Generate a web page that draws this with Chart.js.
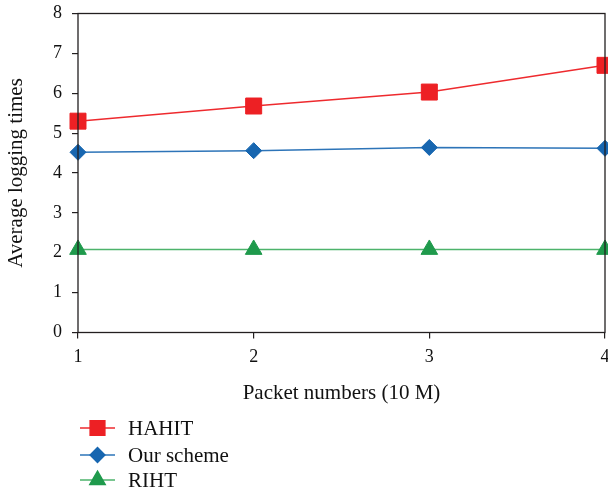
<!DOCTYPE html>
<html>
<head>
<meta charset="utf-8">
<script src="https://cdn.jsdelivr.net/npm/chart.js@4/dist/chart.umd.min.js"></script>
<style>
  html, body { margin: 0; padding: 0; background: #fff; }
  #wrap { width: 608px; height: 494px; }
</style>
</head>
<body>
<div id="wrap"><canvas id="chart"></canvas></div>
<script>
// data
const packets = [1, 2, 3, 4];
const hahit = [5.30, 5.68, 6.03, 6.70];
const ourScheme = [4.52, 4.56, 4.64, 4.62];
const riht = [2.08, 2.08, 2.08, 2.08];
const seriesNames = ['HAHIT', 'Our scheme', 'RIHT'];
const yTicks = [0, 1, 2, 3, 4, 5, 6, 7, 8];

const FONT = "'Liberation Serif', 'DejaVu Serif', serif";
const AXIS = '#231f20';

function pts(vals) {
  return packets.map((p, i) => ({ x: p, y: vals[i] }));
}

// box around the plot area
const frame = {
  id: 'frame',
  afterDatasetsDraw(chart) {
    const { ctx, chartArea: a } = chart;
    ctx.save();
    ctx.strokeStyle = AXIS;
    ctx.lineWidth = 1.3;
    ctx.strokeRect(a.left, a.top, a.right - a.left, a.bottom - a.top);
    ctx.restore();
  }
};

// vertical legend under the axis title
const legendBox = {
  id: 'legendBox',
  afterDraw(chart) {
    const ctx = chart.ctx;
    const rows = [428, 455, 480];
    ctx.save();
    chart.data.datasets.forEach((ds, i) => {
      const y = rows[i];
      ctx.strokeStyle = ds.borderColor;
      ctx.lineWidth = 1.5;
      ctx.beginPath();
      ctx.moveTo(80, y);
      ctx.lineTo(115, y);
      ctx.stroke();
      ctx.fillStyle = ds.pointBackgroundColor;
      ctx.strokeStyle = ds.pointBackgroundColor;
      Chart.helpers.drawPoint(ctx, {
        pointStyle: ds.pointStyle, radius: ds.pointRadius * 0.92, rotation: 0, borderWidth: 1
      }, 97.5, y);
      ctx.fillStyle = '#111';
      ctx.font = '21px ' + FONT;
      ctx.textBaseline = 'middle';
      ctx.textAlign = 'left';
      ctx.fillText(ds.label, 128, y + 1);
    });
    ctx.restore();
  }
};

new Chart(document.getElementById('chart'), {
  type: 'line',
  data: {
    datasets: [
      {
        label: seriesNames[0], data: pts(hahit),
        borderColor: '#ee2a2e', borderWidth: 1.5,
        pointStyle: 'rect', pointRadius: 11.3,
        pointBackgroundColor: '#ed2024', pointBorderColor: '#ed2024', pointBorderWidth: 1,
        clip: false
      },
      {
        label: seriesNames[1], data: pts(ourScheme),
        borderColor: '#2d74b8', borderWidth: 1.5,
        pointStyle: 'rectRot', pointRadius: 8,
        pointBackgroundColor: '#1766b0', pointBorderColor: '#1766b0', pointBorderWidth: 1,
        clip: false
      },
      {
        label: seriesNames[2], data: pts(riht),
        borderColor: '#4db36b', borderWidth: 1.5,
        pointStyle: 'triangle', pointRadius: 9.6,
        pointBackgroundColor: '#1f9a4c', pointBorderColor: '#1f9a4c', pointBorderWidth: 1,
        clip: false
      }
    ]
  },
  options: {
    responsive: true,
    maintainAspectRatio: false,
    animation: false,
    layout: { autoPadding: false, padding: { top: 13.5, right: 3, left: 0, bottom: 84.4 } },
    plugins: {
      legend: { display: false },
      tooltip: { enabled: false }
    },
    scales: {
      x: {
        type: 'linear',
        min: packets[0],
        max: packets[packets.length - 1],
        afterBuildTicks: s => { s.ticks = packets.map(v => ({ value: v })); },
        grid: { drawOnChartArea: false, drawTicks: true, tickLength: 6, color: AXIS, lineWidth: 1.2 },
        border: { display: false },
        ticks: { color: '#111', padding: 8, font: { family: FONT, size: 18 } },
        title: {
          display: true, text: 'Packet numbers (10 M)', color: '#111',
          font: { family: FONT, size: 21 }, padding: { top: 4, bottom: 4 }
        },
        afterFit: s => { s.height = 77.1; s.paddingLeft = 0; s.paddingRight = 0; }
      },
      y: {
        min: yTicks[0],
        max: yTicks[yTicks.length - 1],
        afterBuildTicks: s => { s.ticks = yTicks.map(v => ({ value: v })); },
        grid: { drawOnChartArea: false, drawTicks: true, tickLength: 6, color: AXIS, lineWidth: 1.2 },
        border: { display: false },
        ticks: { color: '#111', padding: 10, font: { family: FONT, size: 18 } },
        title: {
          display: true, text: 'Average logging times', color: '#111',
          font: { family: FONT, size: 21 }, padding: { top: 3.5, bottom: 4 }
        },
        afterFit: s => { s.width = 78; s.paddingTop = 0; s.paddingBottom = 0; }
      }
    }
  },
  plugins: [frame, legendBox]
});
</script>
</body>
</html>
